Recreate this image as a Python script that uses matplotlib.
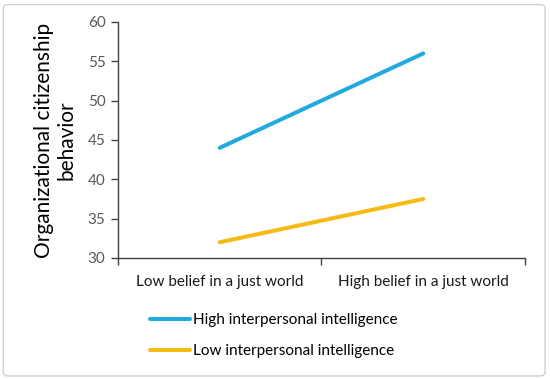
import matplotlib
matplotlib.use("Agg")
import matplotlib.pyplot as plt
from matplotlib.patches import FancyBboxPatch

categories = ["Low belief in a just world", "High belief in a just world"]
high_ii = [44, 56]
low_ii = [32, 37.5]
series_names = ["High interpersonal intelligence", "Low interpersonal intelligence"]
yticks = [30, 35, 40, 45, 50, 55, 60]

plt.rcParams['font.family'] = ['Lato', 'DejaVu Sans']

fig = plt.figure(figsize=(5.5, 3.79), dpi=100)
border = FancyBboxPatch((0.006, 0.008), 0.985, 0.98, boxstyle="round,pad=0,rounding_size=0.01",
                        transform=fig.transFigure, fill=False, edgecolor='#d0d0d0', linewidth=1.0)
fig.patches.append(border)

ax = fig.add_axes([0.2145, 0.3193, 0.74, 0.6227])
x = list(range(len(categories)))
l1, = ax.plot(x, high_ii, color='#22a9e0', linewidth=2.9, solid_capstyle='round', label=series_names[0])
l2, = ax.plot(x, low_ii, color='#f5bb15', linewidth=2.9, solid_capstyle='round', label=series_names[1])

ax.set_xlim(-0.5, 1.5)
ax.set_ylim(30, 60)
ax.set_yticks(yticks)
ax.set_yticklabels([str(v) for v in yticks], color='#595959', fontsize=11)
ax.set_xticks([-0.5, 0.5, 1.5])
ax.set_xticklabels([])
ax.set_xticks(x, minor=True)
ax.set_xticklabels(categories, minor=True, fontsize=11, color='#1a1a1a')
ax.tick_params(axis='x', which='minor', length=0, pad=12)
ax.tick_params(axis='x', which='major', length=5, width=1, color='#404040', direction='out')
ax.tick_params(axis='y', length=5, width=1, color='#404040', direction='out', pad=4)
for s in ['top', 'right']:
    ax.spines[s].set_visible(False)
for s in ['left', 'bottom']:
    ax.spines[s].set_color('#404040')
    ax.spines[s].set_linewidth(1)

ax.set_ylabel("Organizational citizenship\nbehavior", fontsize=15, color='black', labelpad=8, linespacing=1.15)

fig.legend(handles=[l1, l2], labels=series_names, loc='upper left', bbox_to_anchor=(0.262, 0.19),
           frameon=False, fontsize=11, handlelength=2.6, handletextpad=0.2, labelspacing=1.1,
           borderaxespad=0)

fig.savefig("out.png", dpi=100)
